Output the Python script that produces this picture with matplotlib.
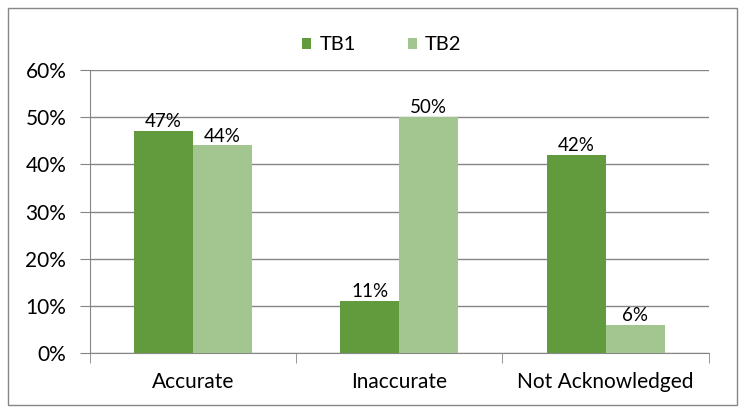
import matplotlib.pyplot as plt
import numpy as np
from matplotlib.patches import Rectangle

categories = ["Accurate", "Inaccurate", "Not Acknowledged"]
tb1 = [47, 11, 42]
tb2 = [44, 50, 6]
series_names = ["TB1", "TB2"]
yticks = [0, 10, 20, 30, 40, 50, 60]

plt.rcParams['font.family'] = ['Lato', 'DejaVu Sans']

fig = plt.figure(figsize=(7.46, 4.12), dpi=100)
ax = fig.add_axes([0.1206, 0.1432, 0.8294, 0.6868])

x = np.arange(len(categories))
w = 0.286
c1 = '#629a3e'
c2 = '#a3c58f'
b1 = ax.bar(x - w / 2, tb1, w, color=c1, label=series_names[0], zorder=3)
b2 = ax.bar(x + w / 2, tb2, w, color=c2, label=series_names[1], zorder=3)

for bars, vals in ((b1, tb1), (b2, tb2)):
    for r, v in zip(bars, vals):
        ax.text(r.get_x() + r.get_width() / 2, v + 0.2, f"{v}%",
                ha='center', va='bottom', fontsize=13.5, zorder=4)

ax.set_xlim(-0.5, len(categories) - 0.5)
ax.set_ylim(0, 60)
ax.set_yticks(yticks)
ax.set_yticklabels([f"{t}%" for t in yticks], fontsize=15)
ax.set_xticks(x)
ax.set_xticklabels(categories, fontsize=15)
ax.set_xticks(np.arange(len(categories) + 1) - 0.5, minor=True)

ax.yaxis.grid(True, color='#868686', linewidth=1, zorder=0)
for s in ['top', 'right']:
    ax.spines[s].set_visible(False)
for s in ['left', 'bottom']:
    ax.spines[s].set_color('#868686')
ax.tick_params(axis='y', length=7, color='#868686', pad=10)
ax.tick_params(axis='x', which='major', length=0, pad=14)
ax.tick_params(axis='x', which='minor', length=7, color='#868686')

fig.legend(handles=[b1, b2], loc='center', bbox_to_anchor=(382 / 746, 1 - 45 / 412),
           ncol=2, frameon=False, fontsize=14.5, handlelength=0.45, handleheight=0.45,
           columnspacing=2.6, handletextpad=0.4)

fig.add_artist(Rectangle((8 / 746, 7 / 412), 729 / 746, 397 / 412,
                         transform=fig.transFigure, fill=False,
                         edgecolor='#868686', linewidth=1))

fig.savefig('out.png', dpi=100)
